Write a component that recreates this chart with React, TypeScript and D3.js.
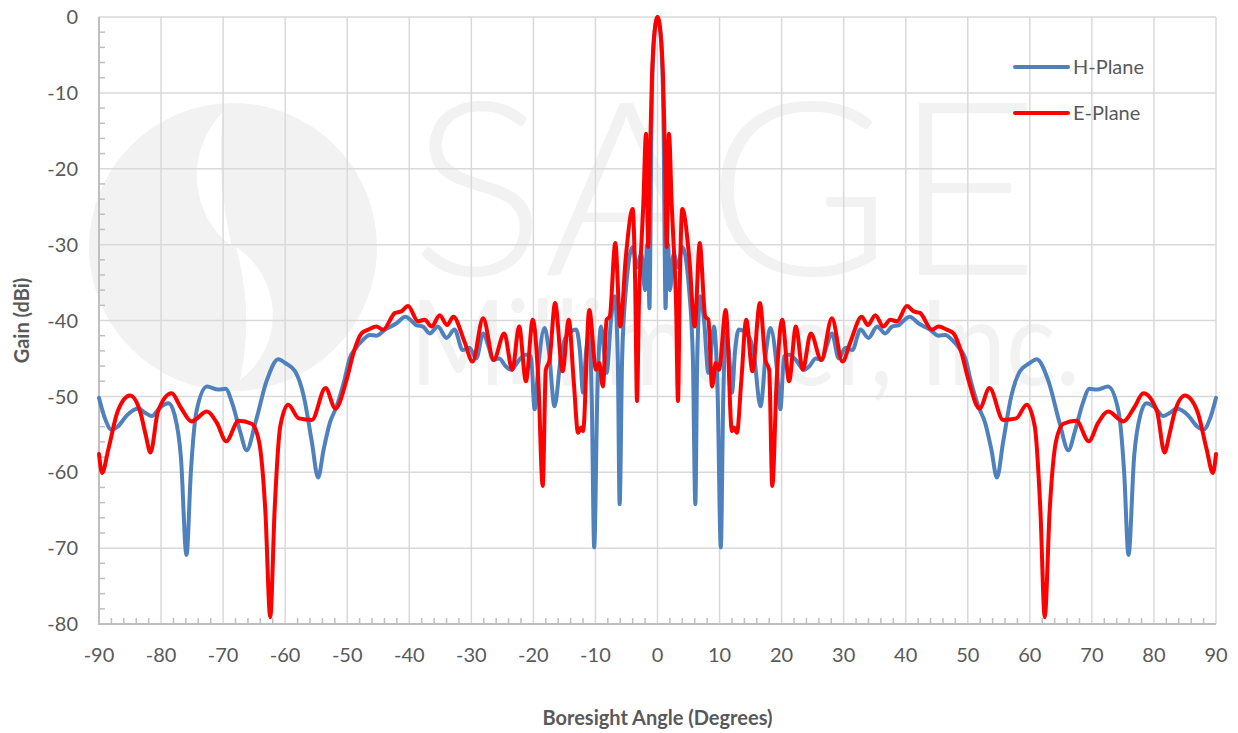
import { useEffect, useRef } from "react";
import * as d3 from "d3";

// angle (deg), gain (dBi)
const hPlane: [number, number][] = [
  [-90, -50.2], [-89, -53], [-88, -54.4], [-87, -54], [-85.5, -52.5], [-83.7, -51.6],
  [-82.5, -52.2], [-81.5, -52.6], [-80.2, -51.5], [-78.8, -50.9], [-77.8, -52.5], [-76.8, -58],
  [-75.9, -70.9], [-75.2, -60], [-74.3, -52], [-72.6, -48.7], [-70.8, -49.1], [-69.6, -49],
  [-68.5, -51], [-67.3, -54.5], [-66.2, -57.1], [-64.8, -53.5], [-63, -48], [-61.1, -45.1],
  [-60, -45.6], [-58.4, -46.7], [-57, -50], [-55.7, -56], [-54.7, -60.7], [-53.8, -57],
  [-52.8, -53.5], [-51.7, -51.3], [-50.5, -48], [-49.6, -45], [-48.5, -43.5], [-47.4, -42.5],
  [-46.4, -41.9], [-45.3, -42], [-43.9, -41.2], [-42.1, -40.4], [-40.6, -39.5], [-39.7, -40],
  [-38.9, -40.6], [-37.8, -40.8], [-36.7, -41.7], [-35.4, -40.8], [-34, -42.3], [-32.7, -41.2],
  [-31.4, -43.9], [-30.3, -43.6], [-29.2, -45], [-28.1, -41.7], [-27.2, -43.5], [-26.5, -45.2],
  [-25.5, -45], [-24.5, -46], [-23.6, -46.5], [-22.3, -45.2], [-21.2, -44.5], [-20.4, -44.7],
  [-19.8, -51.7], [-19.2, -46], [-18.2, -41], [-17.5, -44], [-16.6, -51.3], [-15.5, -44.3],
  [-14.7, -42.1], [-13.1, -41.2], [-12.5, -44], [-12, -49.5], [-11.5, -44], [-11, -41.7],
  [-10.6, -50], [-10.2, -69.9], [-9.7, -50], [-9.1, -40.8], [-8.2, -46.9], [-7.5, -40],
  [-6.9, -36.8], [-6.4, -45], [-6.1, -64.2], [-5.7, -45], [-5.1, -36], [-4, -30.3],
  [-3.3, -33], [-2.6, -31.2], [-2, -36], [-1.7, -30], [-1.45, -33], [-1.3, -38.4],
  [-1.15, -30], [-1, -16], [-0.7, -5], [-0.4, -1.5], [0, 0],
  [0.4, -1.5], [0.7, -5], [1, -16], [1.15, -30], [1.3, -38.4], [1.45, -33],
  [1.7, -30], [2, -36], [2.6, -31.2], [3.3, -33], [4, -30.3], [5.1, -36],
  [5.7, -45], [6.1, -64.2], [6.4, -45], [6.9, -36.8], [7.5, -40], [8.2, -46.9],
  [9.1, -40.8], [9.7, -50], [10.2, -69.9], [10.6, -50], [11, -41.7], [11.5, -44],
  [12, -49.5], [12.5, -44], [13.1, -41.2], [14.7, -42.1], [15.5, -44.3], [16.6, -51.3],
  [17.5, -44], [18.2, -41], [19.2, -46], [19.8, -51.7], [20.4, -44.7], [21.2, -44.5],
  [22.3, -45.2], [23.6, -46.5], [24.5, -46], [25.5, -45], [26.5, -45.2], [27.2, -43.5],
  [28.1, -41.7], [29.2, -45], [30.3, -43.6], [31.4, -43.9], [32.7, -41.2], [34, -42.3],
  [35.4, -40.8], [36.7, -41.7], [37.8, -40.8], [38.9, -40.6], [39.7, -40], [40.6, -39.5],
  [42.1, -40.4], [43.9, -41.2], [45.3, -42], [46.4, -41.9], [47.4, -42.5], [48.5, -43.5],
  [49.6, -45], [50.5, -48], [51.7, -51.3], [52.8, -53.5], [53.8, -57], [54.7, -60.7],
  [55.7, -56], [57, -50], [58.4, -46.7], [60, -45.6], [61.1, -45.1], [63, -48],
  [64.8, -53.5], [66.2, -57.1], [67.3, -54.5], [68.5, -51], [69.6, -49], [70.8, -49.1],
  [72.6, -48.7], [74.3, -52], [75.2, -60], [75.9, -70.9], [76.8, -58], [77.8, -52.5],
  [78.8, -50.9], [80.2, -51.5], [81.5, -52.6], [82.5, -52.2], [83.7, -51.6], [85.5, -52.5],
  [87, -54], [88, -54.4], [89, -53], [90, -50.2],
];

const ePlane: [number, number][] = [
  [-90, -57.6], [-89.5, -60.1], [-88.5, -57], [-87, -52], [-85, -49.9], [-83.3, -52.2],
  [-82.5, -55], [-81.7, -57.4], [-80.5, -52], [-78.3, -49.6], [-76.8, -51.5], [-75.1, -53.3],
  [-72.6, -52], [-71, -53.5], [-69.5, -55.9], [-67.5, -53.2], [-65.4, -53.6], [-64.2, -56],
  [-63.2, -65], [-62.4, -79.1], [-61.7, -65], [-60.8, -54], [-59.5, -51.1], [-57.8, -52.9],
  [-55.7, -53.1], [-53.5, -48.9], [-51.9, -51.6], [-50.1, -47.8], [-49, -44.3], [-47.7, -41.7],
  [-46.6, -41.2], [-45.3, -40.8], [-44.2, -41.2], [-42.3, -39], [-41.3, -38.8], [-40.2, -38.1],
  [-38.6, -40.1], [-37.5, -39.9], [-36.4, -40.8], [-35.1, -39.3], [-33.9, -40.6], [-32.9, -39.5],
  [-31.1, -42.8], [-29.8, -45.4], [-28.1, -39.7], [-26.4, -45.2], [-24.7, -41.7], [-23.4, -46.5],
  [-22.3, -40.8], [-21.2, -48], [-20.1, -39.9], [-19.2, -48], [-18.5, -61.8], [-18, -46.5],
  [-17.4, -45.2], [-16.5, -37.7], [-15.3, -46.7], [-14.3, -39.9], [-13.5, -48], [-12.8, -54.8],
  [-12.3, -54.1], [-12, -54.6], [-11, -38.6], [-9.9, -46.5], [-9.4, -45.6], [-8.8, -48.7],
  [-8.2, -39.9], [-7.7, -39.5], [-6.8, -29.8], [-6, -40.8], [-5.1, -31.6], [-4, -25.3],
  [-3.6, -35], [-3.3, -50.6], [-3, -38], [-2.6, -30], [-2.3, -25], [-1.85, -15.4],
  [-1.5, -30.3], [-1.2, -18], [-0.9, -8], [-0.5, -2.2], [0, 0],
  [0.5, -2.2], [0.9, -8], [1.2, -18], [1.5, -30.3], [1.85, -15.4], [2.3, -25],
  [2.6, -30], [3, -38], [3.3, -50.6], [3.6, -35], [4, -25.3], [5.1, -31.6],
  [6, -40.8], [6.8, -29.8], [7.7, -39.5], [8.2, -39.9], [8.8, -48.7], [9.4, -45.6],
  [9.9, -46.5], [11, -38.6], [12, -54.6], [12.3, -54.1], [12.8, -54.8], [13.5, -48],
  [14.3, -39.9], [15.3, -46.7], [16.5, -37.7], [17.4, -45.2], [18, -46.5], [18.5, -61.8],
  [19.2, -48], [20.1, -39.9], [21.2, -48], [22.3, -40.8], [23.4, -46.5], [24.7, -41.7],
  [26.4, -45.2], [28.1, -39.7], [29.8, -45.4], [31.1, -42.8], [32.9, -39.5], [33.9, -40.6],
  [35.1, -39.3], [36.4, -40.8], [37.5, -39.9], [38.6, -40.1], [40.2, -38.1], [41.3, -38.8],
  [42.3, -39], [44.2, -41.2], [45.3, -40.8], [46.6, -41.2], [47.7, -41.7], [49, -44.3],
  [50.1, -47.8], [51.9, -51.6], [53.5, -48.9], [55.7, -53.1], [57.8, -52.9], [59.5, -51.1],
  [60.8, -54], [61.7, -65], [62.4, -79.1], [63.2, -65], [64.2, -56], [65.4, -53.6],
  [67.5, -53.2], [69.5, -55.9], [71, -53.5], [72.6, -52], [75.1, -53.3], [76.8, -51.5],
  [78.3, -49.6], [80.5, -52], [81.7, -57.4], [82.5, -55], [83.3, -52.2], [85, -49.9],
  [87, -52], [88.5, -57], [89.5, -60.1], [90, -57.6],
];

const xTicks = d3.range(-90, 91, 10);
const yTicks = d3.range(-80, 1, 10);
const seriesNames = ["H-Plane", "E-Plane"];
const seriesColors = ["#4f81bd", "#ff0000"];

const PatternChart = () => {
  const chartRef = useRef(null);

  useEffect(() => {
    if (!chartRef.current) return;
    const svg = d3.select(chartRef.current);
    svg.selectAll("*").remove();

    const width = 1238;
    const height = 733;
    const margin = { top: 17, right: 22, bottom: 109, left: 99 };
    const font = "Lato, 'Open Sans', sans-serif";
    const textColor = "#595959";

    svg.attr("viewBox", [0, 0, width, height]).attr("width", width).attr("height", height);

    const x = d3.scaleLinear().domain([-90, 90]).range([margin.left, width - margin.right]);
    const y = d3.scaleLinear().domain([-80, 0]).range([height - margin.bottom, margin.top]);

    // faint company watermark behind the grid
    const wm = svg.append("g").attr("fill", "#f2f2f2");
    wm.append("circle").attr("cx", 233).attr("cy", 247).attr("r", 144);
    wm.append("path")
      .attr("fill", "#fff")
      .attr("d", "M223,112 A90,90 0 0,0 232,247 A400,400 0 0,1 223,112 Z");
    wm.append("path")
      .attr("fill", "#fff")
      .attr("d", "M236,247 A81,81 0 0,1 240,380 A280,280 0 0,0 236,247 Z");
    const brand = wm.append("text").attr("font-family", font);
    brand.append("tspan")
      .attr("x", 410).attr("y", 275)
      .attr("font-weight", 300).attr("font-size", 243)
      .attr("textLength", 630).attr("lengthAdjust", "spacingAndGlyphs")
      .text("SAGE");
    brand.append("tspan")
      .attr("x", 410).attr("y", 385)
      .attr("font-weight", 400).attr("font-size", 118)
      .attr("textLength", 670).attr("lengthAdjust", "spacingAndGlyphs")
      .text("Millimeter, Inc.");

    // grid
    const grid = svg.append("g").attr("stroke", "#d9d9d9").attr("stroke-width", 1.5);
    grid.selectAll(".vx").data(xTicks.slice(1)).join("line")
      .attr("x1", (d) => x(d)).attr("x2", (d) => x(d))
      .attr("y1", y(0)).attr("y2", y(-80));
    grid.selectAll(".hy").data(yTicks.slice(1)).join("line")
      .attr("x1", x(-90)).attr("x2", x(90))
      .attr("y1", (d) => y(d)).attr("y2", (d) => y(d));

    // axis lines with minor ticks
    const axis = svg.append("g").attr("stroke", "#bfbfbf").attr("stroke-width", 2);
    axis.append("line").attr("x1", x(-90)).attr("x2", x(-90)).attr("y1", y(0)).attr("y2", y(-80));
    axis.append("line").attr("x1", x(-90) - 1).attr("x2", x(90)).attr("y1", y(-80)).attr("y2", y(-80));
    axis.selectAll(".my").data(d3.range(-80, 1, 2).filter((d) => d % 10 !== 0)).join("line")
      .attr("stroke-width", 1.5)
      .attr("x1", x(-90)).attr("x2", x(-90) + 6)
      .attr("y1", (d) => y(d)).attr("y2", (d) => y(d));
    axis.selectAll(".mx").data(d3.range(-90, 91, 2).filter((d) => d % 10 !== 0)).join("line")
      .attr("stroke-width", 1.5)
      .attr("x1", (d) => x(d)).attr("x2", (d) => x(d))
      .attr("y1", y(-80)).attr("y2", y(-80) - 6);

    // tick labels
    svg.append("g").selectAll("text").data(yTicks).join("text")
      .attr("x", x(-90) - 21).attr("y", (d) => y(d))
      .attr("dy", "0.36em").attr("text-anchor", "end")
      .attr("font-family", font).attr("font-size", 20).attr("fill", textColor)
      .text((d) => String(d));
    svg.append("g").selectAll("text").data(xTicks).join("text")
      .attr("x", (d) => x(d)).attr("y", y(-80) + 31)
      .attr("dy", "0.36em").attr("text-anchor", "middle")
      .attr("font-family", font).attr("font-size", 20).attr("fill", textColor)
      .text((d) => String(d));

    // axis titles
    svg.append("text")
      .attr("x", (x(-90) + x(90)) / 2).attr("y", 718).attr("dy", "0.36em")
      .attr("text-anchor", "middle")
      .attr("font-family", font).attr("font-weight", "bold").attr("font-size", 20)
      .attr("fill", textColor)
      .text("Boresight Angle (Degrees)");
    svg.append("text")
      .attr("transform", `translate(22,${(y(0) + y(-80)) / 2}) rotate(-90)`)
      .attr("dy", "0.36em").attr("text-anchor", "middle")
      .attr("font-family", font).attr("font-weight", "bold").attr("font-size", 20)
      .attr("fill", textColor)
      .text("Gain (dBi)");

    // pattern lines
    const line = d3.line<[number, number]>()
      .curve(d3.curveMonotoneX)
      .x((d) => x(d[0]))
      .y((d) => y(d[1]));

    [hPlane, ePlane].forEach((data, i) => {
      svg.append("path")
        .attr("fill", "none")
        .attr("stroke", seriesColors[i])
        .attr("stroke-width", 4)
        .attr("stroke-linejoin", "round")
        .attr("stroke-linecap", "round")
        .attr("d", line(data));
    });

    // legend
    const legend = svg.append("g").selectAll("g").data(seriesNames).join("g")
      .attr("transform", (_d, i) => `translate(1015,${67 + i * 46})`);
    legend.append("line")
      .attr("x1", 0).attr("x2", 53)
      .attr("stroke", (_d, i) => seriesColors[i])
      .attr("stroke-width", 4).attr("stroke-linecap", "round");
    legend.append("text")
      .attr("x", 58).attr("dy", "0.36em")
      .attr("font-family", font).attr("font-size", 20).attr("fill", textColor)
      .text((d) => d);
  }, []);

  return <svg ref={chartRef} style={{ position: "absolute", left: 0, top: 0 }}></svg>;
};

export default function App() {
  return <PatternChart />;
}
